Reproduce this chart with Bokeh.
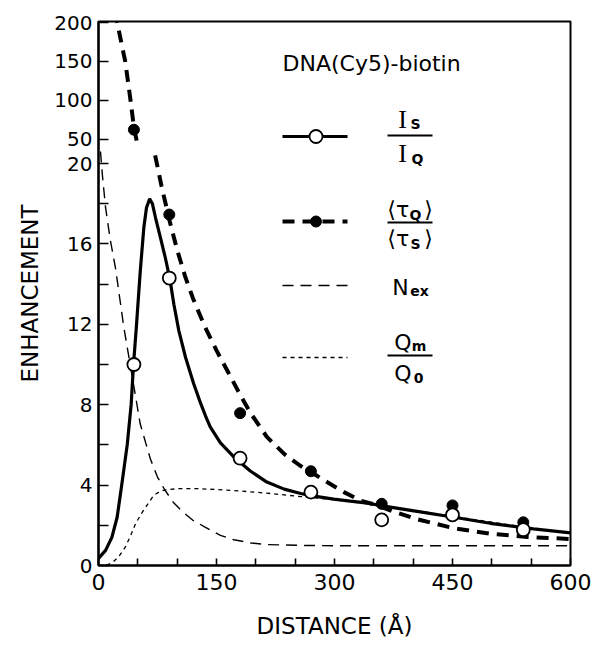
import math
from bokeh.plotting import figure
from bokeh.models import (Range1d, FixedTicker, CustomJSTickFormatter,
                          CustomJSTransform, ColumnDataSource)
from bokeh.transform import transform
from bokeh.core.properties import value
from bokeh.embed import file_html
from bokeh.resources import INLINE

# ---------------- data ----------------
DIST_PTS = [45, 90, 180, 270, 360, 450, 540]
IS_IQ_PTS = [10.0, 14.3, 5.34, 3.65, 2.27, 2.52, 1.78]
TAU_PTS = [62.0, 17.46, 7.58, 4.69, 3.07, 2.99, 2.15]

IS_CURVE_X = [0, 9, 17, 23.7, 29.5, 36.5, 41.5, 44.5, 48, 53, 57.6, 61, 65,
              68.5, 72.5, 78.8, 85, 90.7, 95.8, 102, 110.6, 121, 130, 136,
              142, 155, 172, 193, 214, 236, 257, 272, 299, 320, 342, 363,
              405, 452, 498, 553, 600]
IS_CURVE_Y = [0.35, 0.75, 1.4, 2.4, 4.0, 6.0, 8.0, 10.0, 11.8, 14.6, 16.8,
              17.8, 18.24, 18.0, 17.3, 16.3, 15.3, 14.26, 13.0, 11.7, 10.36,
              9.04, 8.05, 7.45, 6.9, 6.1, 5.4, 4.7, 4.15, 3.8, 3.58, 3.46,
              3.3, 3.2, 3.1, 2.95, 2.69, 2.4, 2.1, 1.82, 1.62]

TAU_UP_X = [22, 23.7, 34, 40.7, 45, 48.5]
TAU_UP_Y = [215, 200, 150, 100, 65, 48]
TAU_LO_X = [72, 80, 90, 100, 110, 120, 135, 150, 165, 180, 193, 214, 236,
            257, 272, 291, 312, 333, 354, 375, 405, 452, 498, 545, 600]
TAU_LO_Y = [20.4, 18.9, 17.2, 15.7, 14.4, 13.3, 11.9, 10.7, 9.6, 8.5, 7.6,
            6.4, 5.55, 4.95, 4.6, 4.14, 3.65, 3.23, 3.0, 2.68, 2.3, 1.85,
            1.58, 1.42, 1.32]

NEX_X = [2.5, 5, 9, 15, 21.6, 32, 40.7, 53, 60, 66, 75, 84, 95, 106, 120,
         136, 155, 172, 194, 214, 257, 300, 600]
NEX_Y = [20.6, 19.4, 17.8, 16.2, 14.8, 11.9, 9.9, 7.05, 6.1, 5.3, 4.4, 3.78,
         3.15, 2.7, 2.25, 1.9, 1.5, 1.28, 1.12, 1.04, 1.0, 0.98, 0.98]

QM_X = [0, 10, 18, 26, 34, 41, 47, 54, 60, 70, 78, 85, 100, 130, 172, 214,
        257, 300, 360, 450, 540, 600]
QM_Y = [0, 0.02, 0.15, 0.45, 0.91, 1.5, 2.07, 2.55, 2.9, 3.48, 3.68, 3.76,
        3.82, 3.82, 3.73, 3.6, 3.43, 3.27, 2.98, 2.45, 1.92, 1.62]

X_MAJOR = [0, 150, 300, 450, 600]
X_MINOR = [50, 100, 200, 250, 350, 400, 500, 550]
Y_LOW_MAJOR = [0, 4, 8, 12, 16, 20]
Y_LOW_MINOR = [2, 6, 10, 14, 18]
Y_HIGH_MAJOR = [50, 100, 150, 200]

# ---------------- layout constants (page pixels) ----------------
FRAME_L, FRAME_R, FRAME_T, FRAME_B = 98, 570, 21, 565
X_MAX = 600
PX_PER_LOW = 20.1                  # pixels per unit, 0..20 part
Y_TOP = (FRAME_B - FRAME_T) / PX_PER_LOW
G = (FRAME_B - 138.5) / PX_PER_LOW  # display position of 50
K = 0.776 / PX_PER_LOW              # display units per unit above the break
LO, HI = 20.7, 40.0


def dx(px):
    return (px - FRAME_L) * X_MAX / (FRAME_R - FRAME_L)


def dy(py):
    return (FRAME_B - py) / PX_PER_LOW


brk = CustomJSTransform(
    args=dict(G=G, K=K, LO=LO, HI=HI),
    func="""
        if (x <= LO) return x;
        if (x >= HI) return G + (x - 50) * K;
        return NaN;
    """,
    v_func="""
        const out = new Float64Array(xs.length);
        for (let i = 0; i < xs.length; i++) {
            const v = xs[i];
            if (v <= LO) out[i] = v;
            else if (v >= HI) out[i] = G + (v - 50) * K;
            else out[i] = NaN;
        }
        return out;
    """)

p = figure(width=594, height=649, x_range=Range1d(0, X_MAX),
           y_range=Range1d(0, Y_TOP), output_backend="svg",
           toolbar_location=None, min_border_left=98, min_border_right=24,
           min_border_top=21, min_border_bottom=84)
p.xgrid.visible = False
p.ygrid.visible = False
p.outline_line_color = "black"
p.outline_line_width = 2
p.outline_line_alpha = 1
p.background_fill_color = "white"

FONT = "DejaVu Sans"

# x axis
p.xaxis.ticker = FixedTicker(ticks=X_MAJOR, minor_ticks=X_MINOR)
p.xaxis.axis_label = "DISTANCE (Å)"
# y axis (broken)
y_ticks = Y_LOW_MAJOR + [G + (v - 50) * K for v in Y_HIGH_MAJOR]
p.yaxis.ticker = FixedTicker(ticks=y_ticks, minor_ticks=Y_LOW_MINOR)
p.yaxis.formatter = CustomJSTickFormatter(args=dict(G=G, K=K), code="""
    if (tick < 20.5) return tick.toFixed(0);
    return Math.round(50 + (tick - G) / K).toFixed(0);
""")
p.yaxis.axis_label = "ENHANCEMENT"

for ax in (p.xaxis[0], p.yaxis[0]):
    ax.axis_line_width = 2.2
    ax.axis_line_color = "black"
    ax.major_tick_out = 0
    ax.minor_tick_out = 0
    ax.major_tick_line_width = 1.6
    ax.minor_tick_line_width = 1.6
    ax.major_tick_line_color = "black"
    ax.minor_tick_line_color = "black"
    ax.major_label_text_font = FONT
    ax.major_label_text_color = "black"
    ax.axis_label_text_font = FONT
    ax.axis_label_text_font_style = "normal"
    ax.axis_label_text_font_size = "23px"
    ax.axis_label_text_color = "black"

p.xaxis.major_tick_in = 7
p.xaxis.minor_tick_in = 7
p.xaxis.major_label_text_font_size = "22px"
p.xaxis.major_label_standoff = 8
p.xaxis.axis_label_standoff = 20
p.yaxis.major_tick_in = 10
p.yaxis.minor_tick_in = 10
p.yaxis.major_label_text_font_size = "20px"
p.yaxis.major_label_standoff = 6
p.yaxis.axis_label_standoff = 8

# ---------------- curves ----------------
p.line(x="x", y=transform("y", brk),
       source=ColumnDataSource(dict(x=NEX_X, y=NEX_Y)),
       line_color="black", line_width=1.4, line_dash="11 7")
p.line(x="x", y=transform("y", brk),
       source=ColumnDataSource(dict(x=QM_X, y=QM_Y)),
       line_color="black", line_width=1.3, line_dash="4 4")
p.line(x="x", y=transform("y", brk),
       source=ColumnDataSource(dict(x=IS_CURVE_X, y=IS_CURVE_Y)),
       line_color="black", line_width=3.2)
for xs, ys in ((TAU_UP_X, TAU_UP_Y), (TAU_LO_X, TAU_LO_Y)):
    p.line(x="x", y=transform("y", brk),
           source=ColumnDataSource(dict(x=xs, y=ys)),
           line_color="black", line_width=4, line_dash="12 8")

p.scatter(x="x", y=transform("y", brk),
          source=ColumnDataSource(dict(x=DIST_PTS, y=TAU_PTS)),
          marker="circle", size=11, fill_color="black", line_color="black")
p.scatter(x="x", y=transform("y", brk),
          source=ColumnDataSource(dict(x=DIST_PTS, y=IS_IQ_PTS)),
          marker="circle", size=13, fill_color="white", line_color="black",
          line_width=1.8)

# ---------------- legend (drawn by hand) ----------------
SAMPLE_X0, SAMPLE_X1, SAMPLE_MID = 282, 347, 315.5
ROW_Y = [136, 221, 285, 357]

p.line([dx(SAMPLE_X0), dx(SAMPLE_X1)], [dy(ROW_Y[0])] * 2,
       line_color="black", line_width=3.2)
p.scatter([dx(SAMPLE_MID)], [dy(ROW_Y[0])], marker="circle", size=13,
          fill_color="white", line_color="black", line_width=1.8)
p.line([dx(SAMPLE_X0), dx(SAMPLE_X1)], [dy(ROW_Y[1])] * 2,
       line_color="black", line_width=4, line_dash="12 8")
p.scatter([dx(SAMPLE_MID)], [dy(ROW_Y[1])], marker="circle", size=11,
          fill_color="black", line_color="black")
p.line([dx(SAMPLE_X0), dx(SAMPLE_X1)], [dy(ROW_Y[2])] * 2,
       line_color="black", line_width=1.4, line_dash="11 7")
p.line([dx(SAMPLE_X0), dx(SAMPLE_X1)], [dy(ROW_Y[3])] * 2,
       line_color="black", line_width=1.3, line_dash="4 4")

# fraction bars
BAR_X0, BAR_X1 = 387, 432
for by in (135, 222, 355):
    p.line([dx(BAR_X0), dx(BAR_X1)], [dy(by)] * 2, line_color="black",
           line_width=2)

# text pieces: (text, x px, y px)
SERIF_BIG = [("I", 402, 119), ("I", 402, 153)]
SANS_BIG = [("⟨", 391, 209), ("τ", 402, 209), ("⟩", 428, 209),
            ("⟨", 391, 238), ("τ", 402, 238), ("⟩", 428, 238),
            ("N", 400, 287), ("Q", 402.5, 341.5), ("Q", 402.5, 373)]
SANS_SUB = [("S", 415, 123), ("Q", 417, 158), ("Q", 415, 214),
            ("S", 415, 243), ("ex", 419, 290), ("m", 418.5, 345),
            ("0", 418, 377)]


def put(pieces, font, size, style="normal"):
    p.text(x=[dx(a[1]) for a in pieces], y=[dy(a[2]) for a in pieces],
           text=[a[0] for a in pieces], text_font=value(font),
           text_font_size=value(size), text_font_style=style,
           text_align="center", text_baseline="middle", text_color="black")


put(SERIF_BIG, "Liberation Serif", "26px")
put(SANS_BIG, FONT, "22px")
put(SANS_SUB, FONT, "14px", "bold")

p.text(x=[dx(282)], y=[dy(63)], text=["DNA(Cy5)-biotin"],
       text_font=value(FONT), text_font_size=value("22px"),
       text_align="left", text_baseline="middle", text_color="black")

open("out.html", "w").write(file_html(p, INLINE))
